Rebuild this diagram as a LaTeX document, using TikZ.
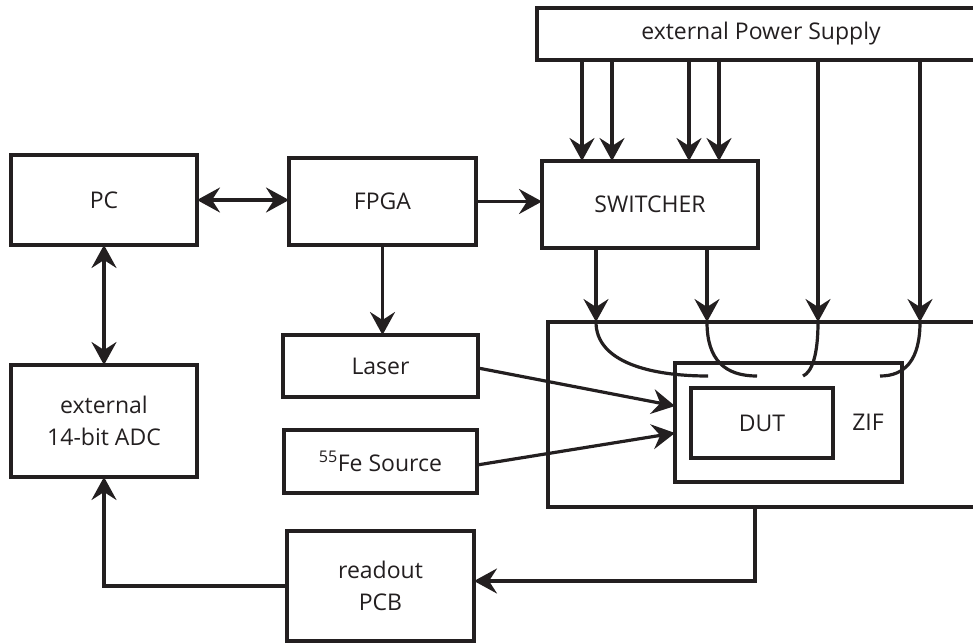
\documentclass[tikz,border=0pt]{standalone}
\usepackage{fontspec}
\setmainfont{Open Sans}
\usetikzlibrary{arrows.meta,calc}
\definecolor{ink}{HTML}{231F20}
\begin{document}
\begin{tikzpicture}[x=1pt,y=-1pt,
  box/.style={draw=ink, line width=3.2pt, rectangle, inner sep=0pt, outer sep=0pt,
    text=ink, align=center, font=\fontsize{23}{31.5}\selectfont},
  lbl/.style={text=ink, inner sep=0pt, font=\fontsize{23}{31.5}\selectfont},
  wire/.style={draw=ink, line width=3.2pt},
  tip/.tip={Stealth[length=23pt,width=25pt,inset=8pt]},
  arr/.style={wire, -tip},
  darr/.style={wire, tip-tip}]
\useasboundingbox (0,0) rectangle (973,643);
\clip (0,0) rectangle (973,643);

% boxes
\node[box, minimum width=470pt, minimum height=52pt] (psu) at (772,34) {};
\node[lbl] (psulbl) at (761,34) {external Power Supply};
\node[box, minimum width=186pt, minimum height=90pt] (pc) at (104,200) {PC};
\node[box, minimum width=187pt, minimum height=87pt] (fpga) at (382.5,201.5) {FPGA};
\node[box, minimum width=216pt, minimum height=87pt] (sw) at (650,204.5) {SWITCHER};
\node[box, minimum width=195pt, minimum height=62pt] (laser) at (380.5,366) {Laser};
\node[box, minimum width=193pt, minimum height=63pt] (fe) at (380.5,461.5) {\textsuperscript{55}Fe Source};
\node[box, minimum width=186pt, minimum height=112pt] (adc) at (104,421) {external\\14-bit ADC};
\node[box, minimum width=187pt, minimum height=110pt] (readout) at (380.5,586) {readout\\PCB};
\node[box, minimum width=460pt, minimum height=185pt] (holder) at (778,414.5) {};
\node[box, minimum width=227pt, minimum height=119pt] (zif) at (788.5,422.5) {};
\node[lbl] (ziflbl) at (868,422) {ZIF};
\node[box, minimum width=142pt, minimum height=70pt] (dut) at (762,423) {DUT};

% curve end points inside the holder
\coordinate (c1) at (708,376);
\coordinate (c2) at (757,376);
\coordinate (c3) at (803,376);
\coordinate (c4) at (880,376);

% power supply lines
\draw[arr] ([xshift=45pt]psu.south west) -- ([xshift=40pt]sw.north west);
\draw[arr] ([xshift=75pt]psu.south west) -- ([xshift=70pt]sw.north west);
\draw[arr] ([xshift=152pt]psu.south west) -- ([xshift=147pt]sw.north west);
\draw[arr] ([xshift=182pt]psu.south west) -- ([xshift=177pt]sw.north west);
\draw[arr] ([xshift=281pt]psu.south west) -- ([xshift=270pt]holder.north west);
\draw[arr] ([xshift=383pt]psu.south west) -- ([xshift=372pt]holder.north west);

% switcher outputs
\draw[arr] ([xshift=54pt]sw.south west) -- ([xshift=48pt]holder.north west);
\draw[arr] ([xshift=165pt]sw.south west) -- ([xshift=159pt]holder.north west);

% curves inside holder
\draw[wire] ([xshift=48pt]holder.north west) .. controls +(0,40) and +(-58,0) .. (c1);
\draw[wire] ([xshift=159pt]holder.north west) .. controls +(0,38) and +(-32,0) .. (c2);
\draw[wire] ([xshift=270pt]holder.north west) .. controls +(0,33) and +(9,-4) .. (c3);
\draw[wire] ([xshift=372pt]holder.north west) .. controls +(0,38) and +(25,0) .. (c4);

% other connectors
\draw[darr] (pc.east) -- (pc.east -| fpga.west);
\draw[arr] (fpga.east) -- (fpga.east -| sw.west);
\draw[arr] (fpga.south) -- (fpga.south |- laser.north);
\draw[darr] (pc.south) -- (adc.north);
\draw[arr] ([yshift=-2pt]laser.east) -- ([yshift=16.5pt]zif.west);
\draw[arr] ([yshift=-3.5pt]fe.east) -- ([yshift=-10.5pt]zif.west);
\draw[arr] ([xshift=207pt]holder.south west) |- ([yshift=5pt]readout.east);
\draw[arr] (readout.west) -| (adc.south);
\end{tikzpicture}
\end{document}
